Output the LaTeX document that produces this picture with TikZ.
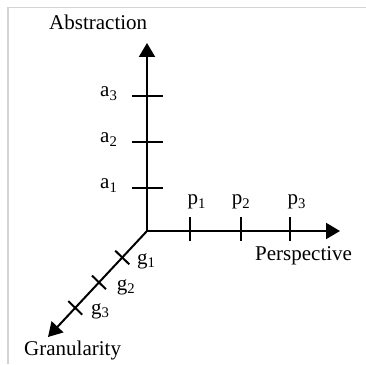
\documentclass[tikz,border=0pt]{standalone}
\usepackage{fontspec}
\setmainfont{Liberation Serif}
\usetikzlibrary{arrows.meta,calc}
\begin{document}
\begin{tikzpicture}[x=1pt,y=1pt,
  axis/.style={line width=2pt,-{Triangle[length=14pt,width=16pt]}},
  tick/.style={line width=2pt},
  lbl/.style={font=\fontsize{21}{25}\selectfont,inner sep=0pt,anchor=base west},
  frame/.style={draw=black!17,line width=1.7pt}]
\useasboundingbox (0,0) rectangle (366,364);
% frame (top and left only)
\draw[frame] (8.2,0) -- (8.2,356.5) -- (366,356.5);
% axes
\coordinate (O) at (147,133);
\coordinate (A) at (147,321);
\coordinate (P) at (340,133);
\coordinate (G) at (48,27);
\draw[axis] (O) -- (A);
\draw[axis] (O) -- (P);
\draw[axis] (O) -- (G);
% abstraction ticks
\foreach \i/\y in {1/176.3,2/222.3,3/268.3}{
  \coordinate (a\i) at (147,\y);
  \draw[tick] ($(a\i)+(-15.5,0)$) -- ($(a\i)+(15.5,0)$);
}
% perspective ticks
\foreach \i/\x in {1/190,2/241,3/290}{
  \coordinate (p\i) at (\x,133);
  \draw[tick] ($(p\i)+(0,14)$) -- ($(p\i)+(0,-10)$);
}
% granularity ticks
\foreach \i/\d in {1/0.25,2/0.485,3/0.725}{
  \coordinate (g\i) at ($(O)!\d!(G)$);
  \draw[tick] ($(g\i)+(-7,6.8)$) -- ($(g\i)+(7,-6.8)$);
}
% labels
\node[lbl] (labA) at (49,334) {Abstraction};
\node[lbl] (labP) at (255,104) {Perspective};
\node[lbl] (labG) at (24,9) {Granularity};
\node[lbl] (la3) at (100,267) {a\textsubscript{3}};
\node[lbl] (la2) at (100,221) {a\textsubscript{2}};
\node[lbl] (la1) at (100,175) {a\textsubscript{1}};
\node[lbl] (lp1) at (187.3,159) {p\textsubscript{1}};
\node[lbl] (lp2) at (231.7,159) {p\textsubscript{2}};
\node[lbl] (lp3) at (287.3,159) {p\textsubscript{3}};
\node[lbl] (lg1) at (137,100) {g\textsubscript{1}};
\node[lbl] (lg2) at (116.7,74) {g\textsubscript{2}};
\node[lbl] (lg3) at (91,50) {g\textsubscript{3}};
\end{tikzpicture}
\end{document}
